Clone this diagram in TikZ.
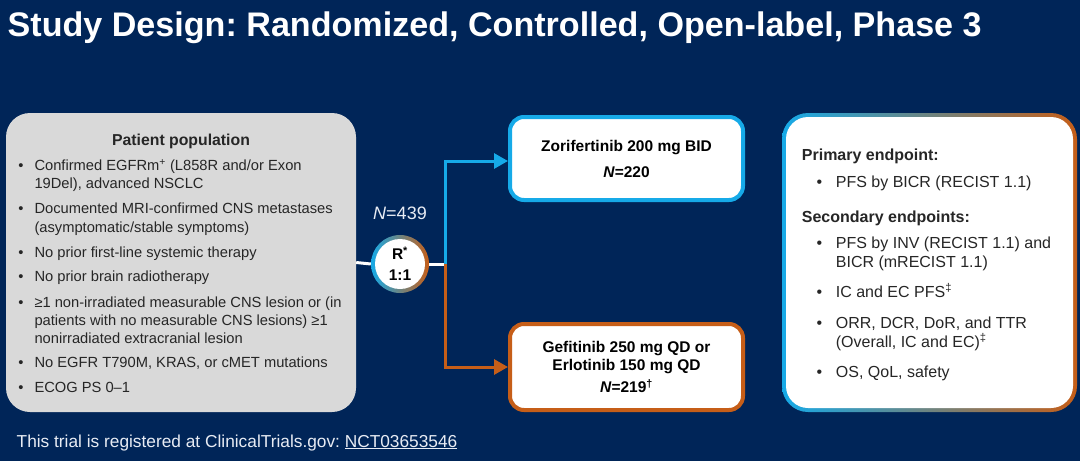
\documentclass[tikz,border=0pt]{standalone}
\usepackage{fontspec}
\setmainfont{Liberation Sans}
\usetikzlibrary{arrows.meta}
\frenchspacing

\definecolor{navy}{RGB}{0,37,88}
\definecolor{skyblue}{RGB}{22,170,232}
\definecolor{burnt}{RGB}{198,94,24}
\definecolor{panelgrey}{RGB}{217,217,217}
\definecolor{inkgrey}{RGB}{38,38,38}
\definecolor{mistblue}{RGB}{196,204,228}
\definecolor{offwhite}{RGB}{232,236,244}

\begin{document}
\begin{tikzpicture}[x=1pt,y=-1pt,
  body/.style={inner sep=0pt, anchor=base west, text=inkgrey, font=\fontsize{14.7}{17}\selectfont},
  rbody/.style={body, font=\fontsize{16}{19}\selectfont},
  rhead/.style={body, font=\fontsize{16}{19}\selectfont\bfseries},
  armbox/.style={fill=white, line width=4pt, rounded corners=14pt, minimum width=233pt,
    align=center, text=black, font=\fontsize{15.5}{18.3}\selectfont\bfseries},
  arm/.style={line width=3pt, -{Triangle[length=14pt,width=15pt]}},
]
\fill[navy] (0,0) rectangle (1080,461);
\useasboundingbox (0,0) rectangle (1080,461);

% title
\node[inner sep=0pt, anchor=base west, text=white, font=\fontsize{34.1}{36}\selectfont\bfseries]
  (title) at (7.5,36) {Study Design: Randomized, Controlled, Open-label, Phase 3};

% patient population
\node[fill=panelgrey, rounded corners=24pt, minimum width=350pt, minimum height=299pt, inner sep=0pt]
  (population) at (181,262.5) {};
\node[body, anchor=base, font=\fontsize{15.8}{18}\selectfont\bfseries] (pophead) at (181,145) {Patient population};
\foreach \yy [count=\i] in {170.3,213.6,257,281.3,307,367.6,392}
  \node[body] (popdot\i) at (18.2,\yy) {•};
\foreach \yy/\tt [count=\i] in {170.3/{Confirmed EGFRm\textsuperscript{+} (L858R and/or Exon},
    188/{19Del), advanced NSCLC},
    213.6/{Documented MRI-confirmed CNS metastases},
    232/{(asymptomatic/stable symptoms)},
    257/{No prior first-line systemic therapy},
    281.3/{No prior brain radiotherapy},
    307/{≥1 non-irradiated measurable CNS lesion or (in},
    325.3/{patients with no measurable CNS lesions) ≥1},
    343/{nonirradiated extracranial lesion},
    367.6/{No EGFR T790M, KRAS, or cMET mutations},
    392/{ECOG PS 0–1}}
  \node[body] (popline\i) at (34.3,\yy) {\tt};

% randomisation
\node[circle, minimum size=58pt, inner sep=0pt, left color=skyblue, middle color=mistblue, right color=burnt]
  (rand) at (400,264) {};
\node[circle, fill=white, minimum size=50pt, inner sep=0pt, align=center,
  font=\fontsize{15.5}{21}\selectfont\bfseries] (randtext) at (rand) {R\textsuperscript{*}\\1:1};
\node[inner sep=0pt, anchor=base, text=offwhite, font=\fontsize{18}{20}\selectfont]
  (ntotal) at (400,219.5) {\textit{N}=439};

% treatment arms
\node[armbox, draw=skyblue, minimum height=83pt] (zori) at (626.5,158.5)
  {Zorifertinib 200 mg BID\\[7.7pt]\textit{N}=220};
\node[armbox, draw=burnt, minimum height=86pt] (gefi) at (626.5,367)
  {Gefitinib 250 mg QD or\\Erlotinib 150 mg QD\\[4pt]\textit{N}=219\textsuperscript{†}};

\coordinate (split) at (445,264);
\draw[white, line width=3pt] (population.east) -- (rand.west);
\draw[white, line width=3pt] (rand.east) -- (split);
\draw[skyblue, arm] (split) |- ([yshift=-2.5pt]zori.west);
\draw[burnt, arm] (split) |- (gefi.west);

% endpoints
\node[rounded corners=26pt, minimum width=295pt, minimum height=299pt, inner sep=0pt,
  left color=skyblue, middle color=mistblue, right color=burnt] (endframe) at (929.5,262.5) {};
\node[fill=white, rounded corners=22pt, minimum width=287pt, minimum height=291pt, inner sep=0pt]
  (endpoints) at (endframe) {};
\node[rhead] (primhead) at (801.7,160.7) {Primary endpoint:};
\node[rhead] (sechead) at (801.7,222.4) {Secondary endpoints:};
\foreach \yy [count=\i] in {187.4,248.4,297.4,328,377.4}
  \node[rbody] (enddot\i) at (816.3,\yy) {•};
\foreach \yy/\tt [count=\i] in {187.4/{PFS by BICR (RECIST 1.1)},
    248.4/{PFS by INV (RECIST 1.1) and},
    267.4/{BICR (mRECIST 1.1)},
    297.4/{IC and EC PFS\textsuperscript{‡}},
    328/{ORR, DCR, DoR, and TTR},
    347.4/{(Overall, IC and EC)\textsuperscript{‡}},
    377.4/{OS, QoL, safety}}
  \node[rbody] (endline\i) at (835.7,\yy) {\tt};

% footer
\node[inner sep=0pt, anchor=base west, text=offwhite, font=\fontsize{17.3}{19}\selectfont]
  (footer) at (16.5,447) {This trial is registered at ClinicalTrials.gov: \underline{NCT03653546}};
\end{tikzpicture}
\end{document}
